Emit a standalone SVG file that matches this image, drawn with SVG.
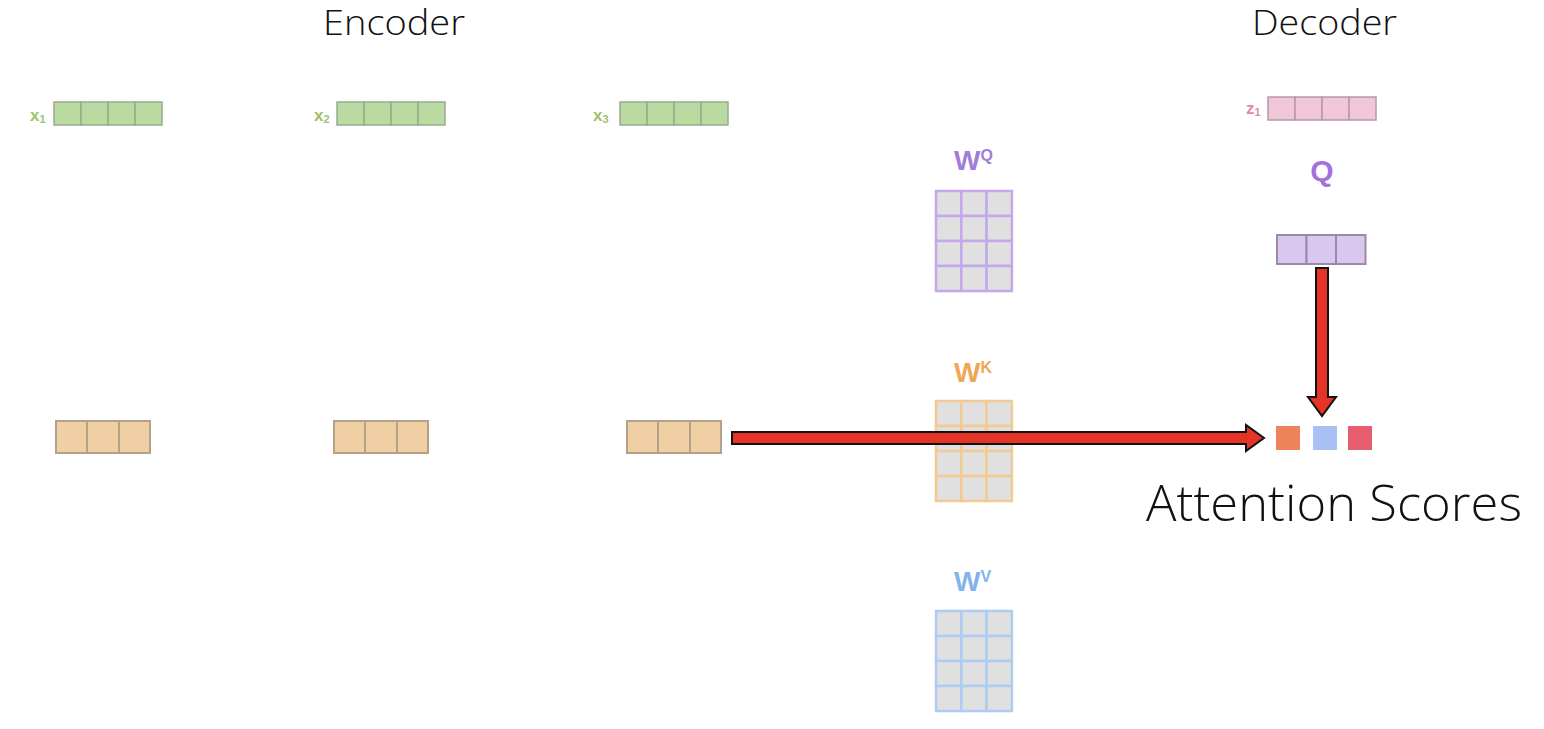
<svg xmlns="http://www.w3.org/2000/svg" width="1544" height="729" viewBox="0 0 1544 729">
<defs>
<style>
.title{font-family:"Open Sans","Liberation Sans",sans-serif;font-weight:300;fill:#111}
.vg rect{fill:#B9DBA2;stroke:#9AAA8C;stroke-width:1.5}
.vz rect{fill:#F1C6D8;stroke:#B898A8;stroke-width:1.5}
.vo rect{fill:#F1CFA4;stroke:#B5A08A;stroke-width:2}
.vq rect{fill:#D9C7EF;stroke:#9A8AA8;stroke-width:2}
.m rect{fill:#E0E0E0;stroke-width:2.5}
.mq rect{stroke:#C3A8EC}
.mk rect{stroke:#F3CA92}
.mv rect{stroke:#AECCF3}
.lab{font-family:"Liberation Sans",Arial,sans-serif;font-weight:bold}
.arrow{fill:#E53325;stroke:#111;stroke-width:2;stroke-linejoin:miter}
</style>
</defs>
<rect width="1544" height="729" fill="#fff"/>
<text class="title" x="323" y="35" font-size="35" textLength="142" lengthAdjust="spacingAndGlyphs">Encoder</text>
<text class="title" x="1252" y="35" font-size="35" textLength="145" lengthAdjust="spacingAndGlyphs">Decoder</text>

<g id="x1">
<text class="lab" x="30" y="121" font-size="17" fill="#9DC16E">x<tspan font-size="11" dy="2">1</tspan></text>
<g class="vg"><rect x="54" y="102" width="27" height="23"/><rect x="81" y="102" width="27" height="23"/><rect x="108" y="102" width="27" height="23"/><rect x="135" y="102" width="27" height="23"/></g>
</g>
<g id="x2">
<text class="lab" x="314" y="121" font-size="17" fill="#9DC16E">x<tspan font-size="11" dy="2">2</tspan></text>
<g class="vg"><rect x="337" y="102" width="27" height="23"/><rect x="364" y="102" width="27" height="23"/><rect x="391" y="102" width="27" height="23"/><rect x="418" y="102" width="27" height="23"/></g>
</g>
<g id="x3">
<text class="lab" x="593" y="121" font-size="17" fill="#9DC16E">x<tspan font-size="11" dy="2">3</tspan></text>
<g class="vg"><rect x="620" y="102" width="27" height="23"/><rect x="647" y="102" width="27" height="23"/><rect x="674" y="102" width="27" height="23"/><rect x="701" y="102" width="27" height="23"/></g>
</g>
<g id="z1">
<text class="lab" x="1246" y="114" font-size="17" fill="#E388AC">z<tspan font-size="11" dy="2">1</tspan></text>
<g class="vz"><rect x="1268" y="97" width="27" height="23"/><rect x="1295" y="97" width="27" height="23"/><rect x="1322" y="97" width="27" height="23"/><rect x="1349" y="97" width="27" height="23"/></g>
</g>

<g id="k1" class="vo"><rect x="56" y="421" width="31" height="32"/><rect x="87" y="421" width="32" height="32"/><rect x="119" y="421" width="31" height="32"/></g>
<g id="k2" class="vo"><rect x="334" y="421" width="31" height="32"/><rect x="365" y="421" width="32" height="32"/><rect x="397" y="421" width="31" height="32"/></g>
<g id="k3" class="vo"><rect x="627" y="421" width="31" height="32"/><rect x="658" y="421" width="32" height="32"/><rect x="690" y="421" width="31" height="32"/></g>

<g id="WQ">
<text class="lab" x="954" y="170" font-size="28" fill="#A27CDB">W<tspan font-size="16" dy="-9">Q</tspan></text>
<g class="m mq">
<rect x="936" y="191" width="25.3" height="25"/><rect x="961.3" y="191" width="25.3" height="25"/><rect x="986.6" y="191" width="25.3" height="25"/>
<rect x="936" y="216" width="25.3" height="25"/><rect x="961.3" y="216" width="25.3" height="25"/><rect x="986.6" y="216" width="25.3" height="25"/>
<rect x="936" y="241" width="25.3" height="25"/><rect x="961.3" y="241" width="25.3" height="25"/><rect x="986.6" y="241" width="25.3" height="25"/>
<rect x="936" y="266" width="25.3" height="25"/><rect x="961.3" y="266" width="25.3" height="25"/><rect x="986.6" y="266" width="25.3" height="25"/>
</g>
</g>
<g id="WK">
<text class="lab" x="954" y="382" font-size="28" fill="#F0A752">W<tspan font-size="16" dy="-9">K</tspan></text>
<g class="m mk">
<rect x="936" y="401" width="25.3" height="25"/><rect x="961.3" y="401" width="25.3" height="25"/><rect x="986.6" y="401" width="25.3" height="25"/>
<rect x="936" y="426" width="25.3" height="25"/><rect x="961.3" y="426" width="25.3" height="25"/><rect x="986.6" y="426" width="25.3" height="25"/>
<rect x="936" y="451" width="25.3" height="25"/><rect x="961.3" y="451" width="25.3" height="25"/><rect x="986.6" y="451" width="25.3" height="25"/>
<rect x="936" y="476" width="25.3" height="25"/><rect x="961.3" y="476" width="25.3" height="25"/><rect x="986.6" y="476" width="25.3" height="25"/>
</g>
</g>
<g id="WV">
<text class="lab" x="954" y="591" font-size="28" fill="#84B2EA">W<tspan font-size="16" dy="-9">V</tspan></text>
<g class="m mv">
<rect x="936" y="611" width="25.3" height="25"/><rect x="961.3" y="611" width="25.3" height="25"/><rect x="986.6" y="611" width="25.3" height="25"/>
<rect x="936" y="636" width="25.3" height="25"/><rect x="961.3" y="636" width="25.3" height="25"/><rect x="986.6" y="636" width="25.3" height="25"/>
<rect x="936" y="661" width="25.3" height="25"/><rect x="961.3" y="661" width="25.3" height="25"/><rect x="986.6" y="661" width="25.3" height="25"/>
<rect x="936" y="686" width="25.3" height="25"/><rect x="961.3" y="686" width="25.3" height="25"/><rect x="986.6" y="686" width="25.3" height="25"/>
</g>
</g>

<g id="Q">
<text class="lab" x="1322" y="181" font-size="30" fill="#A372DC" text-anchor="middle">Q</text>
<g class="vq"><rect x="1277" y="235" width="29.5" height="29"/><rect x="1306.5" y="235" width="29.5" height="29"/><rect x="1336" y="235" width="29.5" height="29"/></g>
</g>

<g id="scores">
<rect x="1276" y="426" width="24" height="24" fill="#EE835A"/>
<rect x="1313" y="426" width="24" height="24" fill="#AABFF4"/>
<rect x="1348" y="426" width="24" height="24" fill="#E85C70"/>
<text class="title" x="1146" y="521" font-size="49" textLength="376" lengthAdjust="spacingAndGlyphs">Attention Scores</text>
</g>

<g id="connectors">
<polygon class="arrow" points="732,432 1246,432 1246,425 1264,438 1246,451 1246,444 732,444"/>
<polygon class="arrow" points="1316,268 1328,268 1328,397 1336,397 1322,416 1308,397 1316,397"/>
</g>
</svg>
